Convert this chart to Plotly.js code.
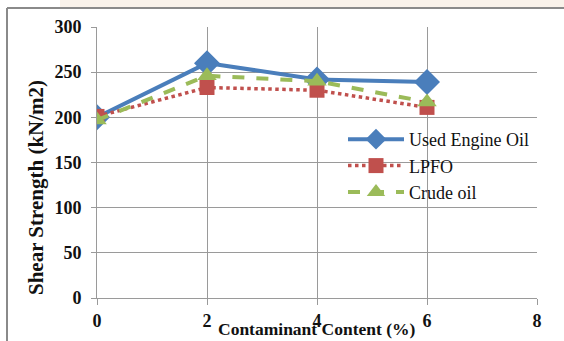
<!DOCTYPE html>
<html>
<head>
<meta charset="utf-8">
<script src="https://cdn.plot.ly/plotly-3.0.1.min.js"></script>
<style>
  html, body { margin: 0; padding: 0; background: #ffffff; }
  #chart { width: 564px; height: 341px; }
</style>
</head>
<body>
<div id="chart"></div>
<script>
// Contaminant content (%) on the x axis
const contentPct = [0, 2, 4, 6];

// Shear strength (kN/m2) for each contaminant
const usedEngineOil = [200, 260, 242, 239];
const lpfo = [201, 233, 230, 211];
const crudeOil = [197, 246, 240, 217];

const seriesNames = ['Used Engine Oil', 'LPFO', 'Crude oil'];
const xTicks = [0, 2, 4, 6, 8];
const yTicks = [0, 50, 100, 150, 200, 250, 300];

const W = 564, H = 341;
const M = { l: 97, r: 27, t: 27, b: 43 };
const PW = W - M.l - M.r, PH = H - M.t - M.b;
// pixel -> paper coordinates for frame decorations
const px = v => (v - M.l) / PW;
const py = v => 1 - (v - M.t) / PH;

const serif = "'Liberation Serif', 'Times New Roman', serif";

const traces = [
  {
    x: contentPct, y: usedEngineOil, name: seriesNames[0],
    type: 'scatter', mode: 'lines+markers',
    line: { color: '#4A7EBB', width: 4 },
    marker: { symbol: 'diamond', size: 20, color: '#4A7EBB' }
  },
  {
    x: contentPct, y: lpfo, name: seriesNames[1],
    type: 'scatter', mode: 'lines+markers',
    line: { color: '#C0504D', width: 3.5, dash: 'dot' },
    marker: { symbol: 'square', size: 15, color: '#C0504D' }
  },
  {
    x: contentPct, y: crudeOil, name: seriesNames[2],
    type: 'scatter', mode: 'lines+markers',
    line: { color: '#9BBB59', width: 4, dash: 'dash' },
    marker: { symbol: 'triangle-up', size: 17, color: '#9BBB59' }
  }
];

const layout = {
  width: W, height: H,
  margin: M,
  font: { family: serif, color: '#111' },
  paper_bgcolor: '#ffffff',
  plot_bgcolor: '#ffffff',
  showlegend: true,
  legend: {
    x: px(343), y: py(121), xanchor: 'left', yanchor: 'top',
    bgcolor: 'rgba(0,0,0,0)',
    font: { family: serif, size: 18, color: '#111' },
    itemwidth: 56, tracegroupgap: 0
  },
  xaxis: {
    range: [0, 8], tickvals: xTicks, ticktext: xTicks.map(String),
    showgrid: true, gridcolor: '#9a9a9a', gridwidth: 1,
    showline: true, linecolor: '#9a9a9a', linewidth: 1,
    zeroline: false,
    ticks: 'outside', ticklen: 6, tickcolor: '#9a9a9a',
    ticklabelstandoff: 0,
    tickfont: { family: serif, size: 18, color: '#111', weight: 'bold' },
    fixedrange: true
  },
  yaxis: {
    range: [0, 300], tickvals: yTicks, ticktext: yTicks.map(String),
    showgrid: true, gridcolor: '#9a9a9a', gridwidth: 1,
    showline: true, linecolor: '#9a9a9a', linewidth: 1,
    zeroline: false,
    ticks: 'outside', ticklen: 5, tickcolor: '#9a9a9a',
    ticklabelstandoff: 6,
    tickfont: { family: serif, size: 18, color: '#111', weight: 'bold' },
    fixedrange: true
  },
  annotations: [
    {
      text: 'Contaminant Content (%)', xref: 'paper', yref: 'paper',
      x: px(317), y: py(329), xanchor: 'center', yanchor: 'middle',
      showarrow: false,
      font: { family: serif, size: 17.5, color: '#111', weight: 'bold' }
    },
    {
      text: 'Shear Strength (kN/m2)', xref: 'paper', yref: 'paper',
      x: px(36), y: py(188), xanchor: 'center', yanchor: 'middle',
      textangle: -90, showarrow: false,
      font: { family: serif, size: 21, color: '#111', weight: 'bold' }
    }
  ],
  shapes: [
    // faint strip above the chart frame
    { type: 'rect', xref: 'paper', yref: 'paper', layer: 'below',
      x0: px(60), x1: px(564), y0: py(8), y1: py(0),
      fillcolor: 'rgba(238,218,196,0.35)', line: { width: 0 } },
    // chart frame (top and left edges)
    { type: 'line', xref: 'paper', yref: 'paper',
      x0: px(7), x1: px(564), y0: py(8), y1: py(8),
      line: { color: '#8a8a8a', width: 2 } },
    { type: 'line', xref: 'paper', yref: 'paper',
      x0: px(7), x1: px(7), y0: py(8), y1: py(341),
      line: { color: '#8a8a8a', width: 2 } }
  ]
};

Plotly.newPlot('chart', traces, layout, { displayModeBar: false, staticPlot: true });
</script>
</body>
</html>
